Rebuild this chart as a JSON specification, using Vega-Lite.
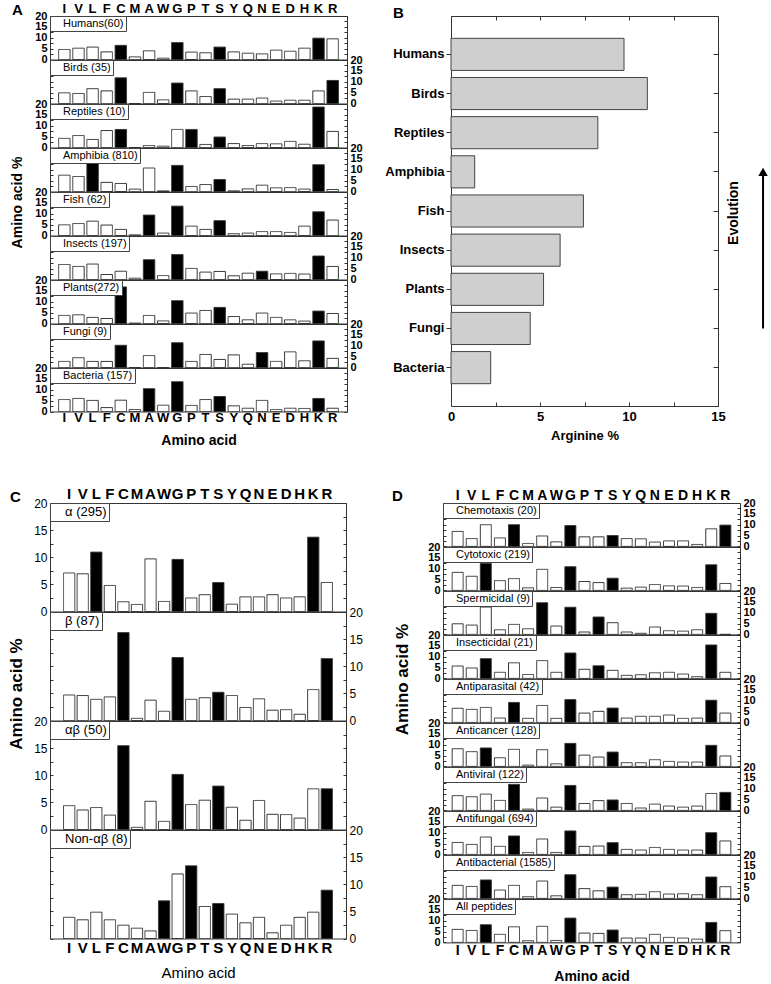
{
"$schema":"https://vega.github.io/schema/vega-lite/v6.json",
"padding":{"left":6,"top":1,"right":0,"bottom":0},
"background":"white",
"config":{
 "view":{"stroke":"#333","strokeWidth":1},
 "font":"Liberation Sans",
 "title":{"font":"Liberation Sans","fontSize":15,"fontWeight":"bold","anchor":"start","color":"#000","offset":0},
 "axis":{"labelFont":"Liberation Sans","titleFont":"Liberation Sans","labelColor":"#000","titleColor":"#000","labelFontWeight":"bold","titleFontWeight":"bold","grid":false,"domain":false,"labelOverlap":false,"labelFlush":false,"labelFontSize":11,"tickColor":"#333"},
 "axisYQuantitative":{"tickSize":-3,"labelPadding":6,"labelOverlap":false,"labelBound":false},
 "legend":{"orient":"top-left","offset":0,"padding":2,"strokeColor":"#444","fillColor":"#fff","labelFont":"Liberation Sans","labelFontSize":11,"labelColor":"#000","symbolSize":0,"symbolOpacity":0,"symbolStrokeWidth":0,"labelOffset":0,"symbolType":"circle","cornerRadius":0}
},
"datasets":{
"A":[
{"g":"Humans(60)","a":"I","v":4.6,"h":0},{"g":"Humans(60)","a":"V","v":5.2,"h":0},{"g":"Humans(60)","a":"L","v":5.7,"h":0},{"g":"Humans(60)","a":"F","v":3.5,"h":0},{"g":"Humans(60)","a":"C","v":6.5,"h":1},{"g":"Humans(60)","a":"M","v":1.2,"h":0},{"g":"Humans(60)","a":"A","v":4.0,"h":0},{"g":"Humans(60)","a":"W","v":0.6,"h":0},{"g":"Humans(60)","a":"G","v":7.8,"h":1},{"g":"Humans(60)","a":"P","v":3.4,"h":0},{"g":"Humans(60)","a":"T","v":3.1,"h":0},{"g":"Humans(60)","a":"S","v":5.7,"h":1},{"g":"Humans(60)","a":"Y","v":3.5,"h":0},{"g":"Humans(60)","a":"Q","v":2.9,"h":0},{"g":"Humans(60)","a":"N","v":2.6,"h":0},{"g":"Humans(60)","a":"E","v":4.3,"h":0},{"g":"Humans(60)","a":"D","v":3.8,"h":0},{"g":"Humans(60)","a":"H","v":5.2,"h":0},{"g":"Humans(60)","a":"K","v":9.8,"h":1},{"g":"Humans(60)","a":"R","v":9.5,"h":0},
{"g":"Birds (35)","a":"I","v":4.9,"h":0},{"g":"Birds (35)","a":"V","v":4.6,"h":0},{"g":"Birds (35)","a":"L","v":6.8,"h":0},{"g":"Birds (35)","a":"F","v":5.8,"h":0},{"g":"Birds (35)","a":"C","v":11.8,"h":1},{"g":"Birds (35)","a":"M","v":0,"h":0},{"g":"Birds (35)","a":"A","v":5.1,"h":0},{"g":"Birds (35)","a":"W","v":1.7,"h":0},{"g":"Birds (35)","a":"G","v":9.4,"h":1},{"g":"Birds (35)","a":"P","v":5.8,"h":0},{"g":"Birds (35)","a":"T","v":3.2,"h":0},{"g":"Birds (35)","a":"S","v":6.8,"h":1},{"g":"Birds (35)","a":"Y","v":2.0,"h":0},{"g":"Birds (35)","a":"Q","v":2.0,"h":0},{"g":"Birds (35)","a":"N","v":2.5,"h":0},{"g":"Birds (35)","a":"E","v":1.1,"h":0},{"g":"Birds (35)","a":"D","v":1.5,"h":0},{"g":"Birds (35)","a":"H","v":1.5,"h":0},{"g":"Birds (35)","a":"K","v":5.8,"h":0},{"g":"Birds (35)","a":"R","v":10.6,"h":1},
{"g":"Reptiles (10)","a":"I","v":4.2,"h":0},{"g":"Reptiles (10)","a":"V","v":5.5,"h":0},{"g":"Reptiles (10)","a":"L","v":3.7,"h":0},{"g":"Reptiles (10)","a":"F","v":7.8,"h":0},{"g":"Reptiles (10)","a":"C","v":8.3,"h":1},{"g":"Reptiles (10)","a":"M","v":0,"h":0},{"g":"Reptiles (10)","a":"A","v":0.9,"h":0},{"g":"Reptiles (10)","a":"W","v":0.6,"h":0},{"g":"Reptiles (10)","a":"G","v":8.3,"h":0},{"g":"Reptiles (10)","a":"P","v":8.3,"h":1},{"g":"Reptiles (10)","a":"T","v":1.4,"h":0},{"g":"Reptiles (10)","a":"S","v":4.8,"h":1},{"g":"Reptiles (10)","a":"Y","v":1.8,"h":0},{"g":"Reptiles (10)","a":"Q","v":0.9,"h":0},{"g":"Reptiles (10)","a":"N","v":1.8,"h":0},{"g":"Reptiles (10)","a":"E","v":1.7,"h":0},{"g":"Reptiles (10)","a":"D","v":2.8,"h":0},{"g":"Reptiles (10)","a":"H","v":1.5,"h":0},{"g":"Reptiles (10)","a":"K","v":18.6,"h":1},{"g":"Reptiles (10)","a":"R","v":7.4,"h":0},
{"g":"Amphibia (810)","a":"I","v":7.5,"h":0},{"g":"Amphibia (810)","a":"V","v":6.9,"h":0},{"g":"Amphibia (810)","a":"L","v":13.4,"h":1},{"g":"Amphibia (810)","a":"F","v":4.2,"h":0},{"g":"Amphibia (810)","a":"C","v":3.7,"h":0},{"g":"Amphibia (810)","a":"M","v":1.1,"h":0},{"g":"Amphibia (810)","a":"A","v":10.8,"h":0},{"g":"Amphibia (810)","a":"W","v":0.3,"h":0},{"g":"Amphibia (810)","a":"G","v":12.0,"h":1},{"g":"Amphibia (810)","a":"P","v":2.3,"h":0},{"g":"Amphibia (810)","a":"T","v":3.2,"h":0},{"g":"Amphibia (810)","a":"S","v":5.5,"h":1},{"g":"Amphibia (810)","a":"Y","v":0.3,"h":0},{"g":"Amphibia (810)","a":"Q","v":1.2,"h":0},{"g":"Amphibia (810)","a":"N","v":2.9,"h":0},{"g":"Amphibia (810)","a":"E","v":1.7,"h":0},{"g":"Amphibia (810)","a":"D","v":1.8,"h":0},{"g":"Amphibia (810)","a":"H","v":1.1,"h":0},{"g":"Amphibia (810)","a":"K","v":12.3,"h":1},{"g":"Amphibia (810)","a":"R","v":0.9,"h":0},
{"g":"Fish (62)","a":"I","v":4.9,"h":0},{"g":"Fish (62)","a":"V","v":5.5,"h":0},{"g":"Fish (62)","a":"L","v":6.6,"h":0},{"g":"Fish (62)","a":"F","v":4.8,"h":0},{"g":"Fish (62)","a":"C","v":2.8,"h":0},{"g":"Fish (62)","a":"M","v":0.3,"h":0},{"g":"Fish (62)","a":"A","v":9.4,"h":1},{"g":"Fish (62)","a":"W","v":1.1,"h":0},{"g":"Fish (62)","a":"G","v":13.5,"h":1},{"g":"Fish (62)","a":"P","v":4.3,"h":0},{"g":"Fish (62)","a":"T","v":2.8,"h":0},{"g":"Fish (62)","a":"S","v":6.8,"h":1},{"g":"Fish (62)","a":"Y","v":0.8,"h":0},{"g":"Fish (62)","a":"Q","v":1.1,"h":0},{"g":"Fish (62)","a":"N","v":1.8,"h":0},{"g":"Fish (62)","a":"E","v":1.8,"h":0},{"g":"Fish (62)","a":"D","v":1.4,"h":0},{"g":"Fish (62)","a":"H","v":4.3,"h":0},{"g":"Fish (62)","a":"K","v":10.9,"h":1},{"g":"Fish (62)","a":"R","v":7.1,"h":0},
{"g":"Insects (197)","a":"I","v":6.9,"h":0},{"g":"Insects (197)","a":"V","v":6.0,"h":0},{"g":"Insects (197)","a":"L","v":7.1,"h":0},{"g":"Insects (197)","a":"F","v":2.3,"h":0},{"g":"Insects (197)","a":"C","v":3.8,"h":0},{"g":"Insects (197)","a":"M","v":0.6,"h":0},{"g":"Insects (197)","a":"A","v":9.1,"h":1},{"g":"Insects (197)","a":"W","v":1.8,"h":0},{"g":"Insects (197)","a":"G","v":11.5,"h":1},{"g":"Insects (197)","a":"P","v":5.1,"h":0},{"g":"Insects (197)","a":"T","v":3.4,"h":0},{"g":"Insects (197)","a":"S","v":3.7,"h":0},{"g":"Insects (197)","a":"Y","v":1.7,"h":0},{"g":"Insects (197)","a":"Q","v":2.9,"h":0},{"g":"Insects (197)","a":"N","v":3.8,"h":1},{"g":"Insects (197)","a":"E","v":2.6,"h":0},{"g":"Insects (197)","a":"D","v":2.8,"h":0},{"g":"Insects (197)","a":"H","v":2.5,"h":0},{"g":"Insects (197)","a":"K","v":10.8,"h":1},{"g":"Insects (197)","a":"R","v":6.0,"h":0},
{"g":"Plants(272)","a":"I","v":3.7,"h":0},{"g":"Plants(272)","a":"V","v":4.0,"h":0},{"g":"Plants(272)","a":"L","v":2.8,"h":0},{"g":"Plants(272)","a":"F","v":2.3,"h":0},{"g":"Plants(272)","a":"C","v":16.8,"h":1},{"g":"Plants(272)","a":"M","v":0.2,"h":0},{"g":"Plants(272)","a":"A","v":3.7,"h":0},{"g":"Plants(272)","a":"W","v":1.2,"h":0},{"g":"Plants(272)","a":"G","v":10.5,"h":1},{"g":"Plants(272)","a":"P","v":4.8,"h":0},{"g":"Plants(272)","a":"T","v":6.0,"h":0},{"g":"Plants(272)","a":"S","v":7.4,"h":1},{"g":"Plants(272)","a":"Y","v":3.2,"h":0},{"g":"Plants(272)","a":"Q","v":1.7,"h":0},{"g":"Plants(272)","a":"N","v":4.8,"h":0},{"g":"Plants(272)","a":"E","v":2.8,"h":0},{"g":"Plants(272)","a":"D","v":1.7,"h":0},{"g":"Plants(272)","a":"H","v":1.1,"h":0},{"g":"Plants(272)","a":"K","v":5.7,"h":1},{"g":"Plants(272)","a":"R","v":4.6,"h":0},
{"g":"Fungi (9)","a":"I","v":2.8,"h":0},{"g":"Fungi (9)","a":"V","v":4.5,"h":0},{"g":"Fungi (9)","a":"L","v":2.8,"h":0},{"g":"Fungi (9)","a":"F","v":2.8,"h":0},{"g":"Fungi (9)","a":"C","v":10.2,"h":1},{"g":"Fungi (9)","a":"M","v":0,"h":0},{"g":"Fungi (9)","a":"A","v":5.5,"h":0},{"g":"Fungi (9)","a":"W","v":0,"h":0},{"g":"Fungi (9)","a":"G","v":11.4,"h":1},{"g":"Fungi (9)","a":"P","v":2.8,"h":0},{"g":"Fungi (9)","a":"T","v":6.0,"h":0},{"g":"Fungi (9)","a":"S","v":3.7,"h":0},{"g":"Fungi (9)","a":"Y","v":5.8,"h":0},{"g":"Fungi (9)","a":"Q","v":1.5,"h":0},{"g":"Fungi (9)","a":"N","v":6.9,"h":1},{"g":"Fungi (9)","a":"E","v":2.8,"h":0},{"g":"Fungi (9)","a":"D","v":7.2,"h":0},{"g":"Fungi (9)","a":"H","v":3.1,"h":0},{"g":"Fungi (9)","a":"K","v":12.2,"h":1},{"g":"Fungi (9)","a":"R","v":4.2,"h":0},
{"g":"Bacteria (157)","a":"I","v":5.5,"h":0},{"g":"Bacteria (157)","a":"V","v":6.0,"h":0},{"g":"Bacteria (157)","a":"L","v":5.1,"h":0},{"g":"Bacteria (157)","a":"F","v":1.8,"h":0},{"g":"Bacteria (157)","a":"C","v":5.2,"h":0},{"g":"Bacteria (157)","a":"M","v":0.9,"h":0},{"g":"Bacteria (157)","a":"A","v":10.5,"h":1},{"g":"Bacteria (157)","a":"W","v":2.9,"h":0},{"g":"Bacteria (157)","a":"G","v":13.7,"h":1},{"g":"Bacteria (157)","a":"P","v":2.8,"h":0},{"g":"Bacteria (157)","a":"T","v":5.5,"h":0},{"g":"Bacteria (157)","a":"S","v":6.9,"h":1},{"g":"Bacteria (157)","a":"Y","v":2.6,"h":0},{"g":"Bacteria (157)","a":"Q","v":1.5,"h":0},{"g":"Bacteria (157)","a":"N","v":5.1,"h":0},{"g":"Bacteria (157)","a":"E","v":0.9,"h":0},{"g":"Bacteria (157)","a":"D","v":1.5,"h":0},{"g":"Bacteria (157)","a":"H","v":1.4,"h":0},{"g":"Bacteria (157)","a":"K","v":6.0,"h":1},{"g":"Bacteria (157)","a":"R","v":1.5,"h":0}
],
"B":[
{"g":"Humans","v":9.72},{"g":"Birds","v":11.03},{"g":"Reptiles","v":8.25},{"g":"Amphibia","v":1.33},{"g":"Fish","v":7.44},{"g":"Insects","v":6.13},{"g":"Plants","v":5.2},{"g":"Fungi","v":4.45},{"g":"Bacteria","v":2.23}
],
"C":[
{"g":"α (295)","a":"I","v":7.1,"h":0},{"g":"α (295)","a":"V","v":6.95,"h":0},{"g":"α (295)","a":"L","v":10.95,"h":1},{"g":"α (295)","a":"F","v":4.8,"h":0},{"g":"α (295)","a":"C","v":1.8,"h":0},{"g":"α (295)","a":"M","v":1.3,"h":0},{"g":"α (295)","a":"A","v":9.7,"h":0},{"g":"α (295)","a":"W","v":1.85,"h":0},{"g":"α (295)","a":"G","v":9.6,"h":1},{"g":"α (295)","a":"P","v":2.5,"h":0},{"g":"α (295)","a":"T","v":3.1,"h":0},{"g":"α (295)","a":"S","v":5.35,"h":1},{"g":"α (295)","a":"Y","v":1.35,"h":0},{"g":"α (295)","a":"Q","v":2.7,"h":0},{"g":"α (295)","a":"N","v":2.7,"h":0},{"g":"α (295)","a":"E","v":3.1,"h":0},{"g":"α (295)","a":"D","v":2.5,"h":0},{"g":"α (295)","a":"H","v":2.7,"h":0},{"g":"α (295)","a":"K","v":13.7,"h":1},{"g":"α (295)","a":"R","v":5.35,"h":0},
{"g":"β (87)","a":"I","v":4.7,"h":0},{"g":"β (87)","a":"V","v":4.6,"h":0},{"g":"β (87)","a":"L","v":3.9,"h":0},{"g":"β (87)","a":"F","v":4.35,"h":0},{"g":"β (87)","a":"C","v":16.2,"h":1},{"g":"β (87)","a":"M","v":0.4,"h":0},{"g":"β (87)","a":"A","v":3.75,"h":0},{"g":"β (87)","a":"W","v":1.7,"h":0},{"g":"β (87)","a":"G","v":11.6,"h":1},{"g":"β (87)","a":"P","v":3.9,"h":0},{"g":"β (87)","a":"T","v":4.2,"h":0},{"g":"β (87)","a":"S","v":5.2,"h":1},{"g":"β (87)","a":"Y","v":4.6,"h":0},{"g":"β (87)","a":"Q","v":2.4,"h":0},{"g":"β (87)","a":"N","v":4.0,"h":0},{"g":"β (87)","a":"E","v":1.9,"h":0},{"g":"β (87)","a":"D","v":2.0,"h":0},{"g":"β (87)","a":"H","v":1.15,"h":0},{"g":"β (87)","a":"K","v":5.7,"h":0},{"g":"β (87)","a":"R","v":11.4,"h":1},
{"g":"αβ (50)","a":"I","v":4.4,"h":0},{"g":"αβ (50)","a":"V","v":3.6,"h":0},{"g":"αβ (50)","a":"L","v":4.05,"h":0},{"g":"αβ (50)","a":"F","v":2.65,"h":0},{"g":"αβ (50)","a":"C","v":15.45,"h":1},{"g":"αβ (50)","a":"M","v":0.4,"h":0},{"g":"αβ (50)","a":"A","v":5.2,"h":0},{"g":"αβ (50)","a":"W","v":1.5,"h":0},{"g":"αβ (50)","a":"G","v":10.15,"h":1},{"g":"αβ (50)","a":"P","v":4.6,"h":0},{"g":"αβ (50)","a":"T","v":5.4,"h":0},{"g":"αβ (50)","a":"S","v":8.0,"h":1},{"g":"αβ (50)","a":"Y","v":4.1,"h":0},{"g":"αβ (50)","a":"Q","v":1.7,"h":0},{"g":"αβ (50)","a":"N","v":5.35,"h":0},{"g":"αβ (50)","a":"E","v":2.8,"h":0},{"g":"αβ (50)","a":"D","v":2.75,"h":0},{"g":"αβ (50)","a":"H","v":2.1,"h":0},{"g":"αβ (50)","a":"K","v":7.5,"h":0},{"g":"αβ (50)","a":"R","v":7.5,"h":1},
{"g":"Non-αβ (8)","a":"I","v":3.9,"h":0},{"g":"Non-αβ (8)","a":"V","v":3.45,"h":0},{"g":"Non-αβ (8)","a":"L","v":4.85,"h":0},{"g":"Non-αβ (8)","a":"F","v":3.45,"h":0},{"g":"Non-αβ (8)","a":"C","v":2.45,"h":0},{"g":"Non-αβ (8)","a":"M","v":1.9,"h":0},{"g":"Non-αβ (8)","a":"A","v":1.4,"h":0},{"g":"Non-αβ (8)","a":"W","v":6.95,"h":1},{"g":"Non-αβ (8)","a":"G","v":11.9,"h":0},{"g":"Non-αβ (8)","a":"P","v":13.4,"h":1},{"g":"Non-αβ (8)","a":"T","v":5.9,"h":0},{"g":"Non-αβ (8)","a":"S","v":6.45,"h":1},{"g":"Non-αβ (8)","a":"Y","v":4.5,"h":0},{"g":"Non-αβ (8)","a":"Q","v":2.9,"h":0},{"g":"Non-αβ (8)","a":"N","v":3.9,"h":0},{"g":"Non-αβ (8)","a":"E","v":1.05,"h":0},{"g":"Non-αβ (8)","a":"D","v":2.45,"h":0},{"g":"Non-αβ (8)","a":"H","v":3.9,"h":0},{"g":"Non-αβ (8)","a":"K","v":4.85,"h":0},{"g":"Non-αβ (8)","a":"R","v":8.9,"h":1}
],
"D":[
{"g":"Chemotaxis (20)","a":"I","v":6.9,"h":0},{"g":"Chemotaxis (20)","a":"V","v":3.6,"h":0},{"g":"Chemotaxis (20)","a":"L","v":10.0,"h":0},{"g":"Chemotaxis (20)","a":"F","v":3.9,"h":0},{"g":"Chemotaxis (20)","a":"C","v":10.0,"h":1},{"g":"Chemotaxis (20)","a":"M","v":1.35,"h":0},{"g":"Chemotaxis (20)","a":"A","v":4.8,"h":0},{"g":"Chemotaxis (20)","a":"W","v":2.1,"h":0},{"g":"Chemotaxis (20)","a":"G","v":9.6,"h":1},{"g":"Chemotaxis (20)","a":"P","v":4.4,"h":0},{"g":"Chemotaxis (20)","a":"T","v":4.4,"h":0},{"g":"Chemotaxis (20)","a":"S","v":5.0,"h":1},{"g":"Chemotaxis (20)","a":"Y","v":3.6,"h":0},{"g":"Chemotaxis (20)","a":"Q","v":3.5,"h":0},{"g":"Chemotaxis (20)","a":"N","v":2.0,"h":0},{"g":"Chemotaxis (20)","a":"E","v":2.55,"h":0},{"g":"Chemotaxis (20)","a":"D","v":2.55,"h":0},{"g":"Chemotaxis (20)","a":"H","v":0.9,"h":0},{"g":"Chemotaxis (20)","a":"K","v":8.1,"h":0},{"g":"Chemotaxis (20)","a":"R","v":9.8,"h":1},
{"g":"Cytotoxic (219)","a":"I","v":8.3,"h":0},{"g":"Cytotoxic (219)","a":"V","v":6.5,"h":0},{"g":"Cytotoxic (219)","a":"L","v":12.4,"h":1},{"g":"Cytotoxic (219)","a":"F","v":4.5,"h":0},{"g":"Cytotoxic (219)","a":"C","v":5.45,"h":0},{"g":"Cytotoxic (219)","a":"M","v":1.2,"h":0},{"g":"Cytotoxic (219)","a":"A","v":9.7,"h":0},{"g":"Cytotoxic (219)","a":"W","v":1.35,"h":0},{"g":"Cytotoxic (219)","a":"G","v":10.9,"h":1},{"g":"Cytotoxic (219)","a":"P","v":4.1,"h":0},{"g":"Cytotoxic (219)","a":"T","v":3.6,"h":0},{"g":"Cytotoxic (219)","a":"S","v":5.6,"h":1},{"g":"Cytotoxic (219)","a":"Y","v":1.05,"h":0},{"g":"Cytotoxic (219)","a":"Q","v":1.5,"h":0},{"g":"Cytotoxic (219)","a":"N","v":2.7,"h":0},{"g":"Cytotoxic (219)","a":"E","v":2.1,"h":0},{"g":"Cytotoxic (219)","a":"D","v":2.0,"h":0},{"g":"Cytotoxic (219)","a":"H","v":1.35,"h":0},{"g":"Cytotoxic (219)","a":"K","v":11.8,"h":1},{"g":"Cytotoxic (219)","a":"R","v":3.2,"h":0},
{"g":"Spermicidal (9)","a":"I","v":4.9,"h":0},{"g":"Spermicidal (9)","a":"V","v":4.3,"h":0},{"g":"Spermicidal (9)","a":"L","v":12.6,"h":0},{"g":"Spermicidal (9)","a":"F","v":2.15,"h":0},{"g":"Spermicidal (9)","a":"C","v":4.6,"h":0},{"g":"Spermicidal (9)","a":"M","v":2.6,"h":0},{"g":"Spermicidal (9)","a":"A","v":14.6,"h":1},{"g":"Spermicidal (9)","a":"W","v":3.85,"h":0},{"g":"Spermicidal (9)","a":"G","v":12.5,"h":1},{"g":"Spermicidal (9)","a":"P","v":1.1,"h":0},{"g":"Spermicidal (9)","a":"T","v":8.0,"h":1},{"g":"Spermicidal (9)","a":"S","v":5.4,"h":0},{"g":"Spermicidal (9)","a":"Y","v":1.1,"h":0},{"g":"Spermicidal (9)","a":"Q","v":0.5,"h":0},{"g":"Spermicidal (9)","a":"N","v":3.4,"h":0},{"g":"Spermicidal (9)","a":"E","v":1.7,"h":0},{"g":"Spermicidal (9)","a":"D","v":1.5,"h":0},{"g":"Spermicidal (9)","a":"H","v":2.15,"h":0},{"g":"Spermicidal (9)","a":"K","v":9.7,"h":1},{"g":"Spermicidal (9)","a":"R","v":0,"h":0},
{"g":"Insecticidal (21)","a":"I","v":5.7,"h":0},{"g":"Insecticidal (21)","a":"V","v":4.8,"h":0},{"g":"Insecticidal (21)","a":"L","v":9.1,"h":1},{"g":"Insecticidal (21)","a":"F","v":2.8,"h":0},{"g":"Insecticidal (21)","a":"C","v":7.2,"h":0},{"g":"Insecticidal (21)","a":"M","v":1.8,"h":0},{"g":"Insecticidal (21)","a":"A","v":8.2,"h":0},{"g":"Insecticidal (21)","a":"W","v":2.8,"h":0},{"g":"Insecticidal (21)","a":"G","v":11.7,"h":1},{"g":"Insecticidal (21)","a":"P","v":4.2,"h":0},{"g":"Insecticidal (21)","a":"T","v":5.8,"h":1},{"g":"Insecticidal (21)","a":"S","v":3.7,"h":0},{"g":"Insecticidal (21)","a":"Y","v":1.4,"h":0},{"g":"Insecticidal (21)","a":"Q","v":1.7,"h":0},{"g":"Insecticidal (21)","a":"N","v":2.6,"h":0},{"g":"Insecticidal (21)","a":"E","v":2.8,"h":0},{"g":"Insecticidal (21)","a":"D","v":2.0,"h":0},{"g":"Insecticidal (21)","a":"H","v":0.8,"h":0},{"g":"Insecticidal (21)","a":"K","v":15.4,"h":1},{"g":"Insecticidal (21)","a":"R","v":2.8,"h":0},
{"g":"Antiparasital (42)","a":"I","v":6.5,"h":0},{"g":"Antiparasital (42)","a":"V","v":6.0,"h":0},{"g":"Antiparasital (42)","a":"L","v":6.9,"h":0},{"g":"Antiparasital (42)","a":"F","v":2.0,"h":0},{"g":"Antiparasital (42)","a":"C","v":9.2,"h":1},{"g":"Antiparasital (42)","a":"M","v":1.85,"h":0},{"g":"Antiparasital (42)","a":"A","v":7.8,"h":0},{"g":"Antiparasital (42)","a":"W","v":1.85,"h":0},{"g":"Antiparasital (42)","a":"G","v":10.5,"h":1},{"g":"Antiparasital (42)","a":"P","v":4.3,"h":0},{"g":"Antiparasital (42)","a":"T","v":5.1,"h":0},{"g":"Antiparasital (42)","a":"S","v":6.6,"h":1},{"g":"Antiparasital (42)","a":"Y","v":2.0,"h":0},{"g":"Antiparasital (42)","a":"Q","v":2.8,"h":0},{"g":"Antiparasital (42)","a":"N","v":2.8,"h":0},{"g":"Antiparasital (42)","a":"E","v":3.4,"h":0},{"g":"Antiparasital (42)","a":"D","v":1.85,"h":0},{"g":"Antiparasital (42)","a":"H","v":2.0,"h":0},{"g":"Antiparasital (42)","a":"K","v":10.2,"h":1},{"g":"Antiparasital (42)","a":"R","v":4.3,"h":0},
{"g":"Anticancer (128)","a":"I","v":8.15,"h":0},{"g":"Anticancer (128)","a":"V","v":6.8,"h":0},{"g":"Anticancer (128)","a":"L","v":8.5,"h":1},{"g":"Anticancer (128)","a":"F","v":4.0,"h":0},{"g":"Anticancer (128)","a":"C","v":7.85,"h":0},{"g":"Anticancer (128)","a":"M","v":0.6,"h":0},{"g":"Anticancer (128)","a":"A","v":7.7,"h":0},{"g":"Anticancer (128)","a":"W","v":1.2,"h":0},{"g":"Anticancer (128)","a":"G","v":10.6,"h":1},{"g":"Anticancer (128)","a":"P","v":5.2,"h":0},{"g":"Anticancer (128)","a":"T","v":4.3,"h":0},{"g":"Anticancer (128)","a":"S","v":6.6,"h":1},{"g":"Anticancer (128)","a":"Y","v":1.7,"h":0},{"g":"Anticancer (128)","a":"Q","v":1.7,"h":0},{"g":"Anticancer (128)","a":"N","v":3.1,"h":0},{"g":"Anticancer (128)","a":"E","v":2.3,"h":0},{"g":"Anticancer (128)","a":"D","v":2.0,"h":0},{"g":"Anticancer (128)","a":"H","v":2.0,"h":0},{"g":"Anticancer (128)","a":"K","v":9.7,"h":1},{"g":"Anticancer (128)","a":"R","v":4.8,"h":0},
{"g":"Antiviral (122)","a":"I","v":6.8,"h":0},{"g":"Antiviral (122)","a":"V","v":6.3,"h":0},{"g":"Antiviral (122)","a":"L","v":7.5,"h":0},{"g":"Antiviral (122)","a":"F","v":4.6,"h":0},{"g":"Antiviral (122)","a":"C","v":12.0,"h":1},{"g":"Antiviral (122)","a":"M","v":0.6,"h":0},{"g":"Antiviral (122)","a":"A","v":5.7,"h":0},{"g":"Antiviral (122)","a":"W","v":1.5,"h":0},{"g":"Antiviral (122)","a":"G","v":11.5,"h":1},{"g":"Antiviral (122)","a":"P","v":3.2,"h":0},{"g":"Antiviral (122)","a":"T","v":4.5,"h":0},{"g":"Antiviral (122)","a":"S","v":4.8,"h":1},{"g":"Antiviral (122)","a":"Y","v":3.2,"h":0},{"g":"Antiviral (122)","a":"Q","v":1.1,"h":0},{"g":"Antiviral (122)","a":"N","v":2.9,"h":0},{"g":"Antiviral (122)","a":"E","v":2.0,"h":0},{"g":"Antiviral (122)","a":"D","v":1.5,"h":0},{"g":"Antiviral (122)","a":"H","v":2.0,"h":0},{"g":"Antiviral (122)","a":"K","v":7.8,"h":0},{"g":"Antiviral (122)","a":"R","v":8.3,"h":1},
{"g":"Antifungal (694)","a":"I","v":5.5,"h":0},{"g":"Antifungal (694)","a":"V","v":4.6,"h":0},{"g":"Antifungal (694)","a":"L","v":8.0,"h":0},{"g":"Antifungal (694)","a":"F","v":3.7,"h":0},{"g":"Antifungal (694)","a":"C","v":8.5,"h":1},{"g":"Antifungal (694)","a":"M","v":0.9,"h":0},{"g":"Antifungal (694)","a":"A","v":7.1,"h":0},{"g":"Antifungal (694)","a":"W","v":0.9,"h":0},{"g":"Antifungal (694)","a":"G","v":10.8,"h":1},{"g":"Antifungal (694)","a":"P","v":3.7,"h":0},{"g":"Antifungal (694)","a":"T","v":3.85,"h":0},{"g":"Antifungal (694)","a":"S","v":5.4,"h":1},{"g":"Antifungal (694)","a":"Y","v":2.3,"h":0},{"g":"Antifungal (694)","a":"Q","v":2.0,"h":0},{"g":"Antifungal (694)","a":"N","v":3.2,"h":0},{"g":"Antifungal (694)","a":"E","v":2.3,"h":0},{"g":"Antifungal (694)","a":"D","v":2.0,"h":0},{"g":"Antifungal (694)","a":"H","v":2.0,"h":0},{"g":"Antifungal (694)","a":"K","v":10.0,"h":1},{"g":"Antifungal (694)","a":"R","v":6.2,"h":0},
{"g":"Antibacterial (1585)","a":"I","v":6.0,"h":0},{"g":"Antibacterial (1585)","a":"V","v":5.5,"h":0},{"g":"Antibacterial (1585)","a":"L","v":8.5,"h":1},{"g":"Antibacterial (1585)","a":"F","v":3.85,"h":0},{"g":"Antibacterial (1585)","a":"C","v":6.0,"h":0},{"g":"Antibacterial (1585)","a":"M","v":0.8,"h":0},{"g":"Antibacterial (1585)","a":"A","v":8.0,"h":0},{"g":"Antibacterial (1585)","a":"W","v":1.2,"h":0},{"g":"Antibacterial (1585)","a":"G","v":10.9,"h":1},{"g":"Antibacterial (1585)","a":"P","v":4.5,"h":0},{"g":"Antibacterial (1585)","a":"T","v":3.5,"h":0},{"g":"Antibacterial (1585)","a":"S","v":5.2,"h":1},{"g":"Antibacterial (1585)","a":"Y","v":1.7,"h":0},{"g":"Antibacterial (1585)","a":"Q","v":1.85,"h":0},{"g":"Antibacterial (1585)","a":"N","v":3.1,"h":0},{"g":"Antibacterial (1585)","a":"E","v":2.0,"h":0},{"g":"Antibacterial (1585)","a":"D","v":2.15,"h":0},{"g":"Antibacterial (1585)","a":"H","v":1.7,"h":0},{"g":"Antibacterial (1585)","a":"K","v":9.85,"h":1},{"g":"Antibacterial (1585)","a":"R","v":5.4,"h":0},
{"g":"All peptides","a":"I","v":6.0,"h":0},{"g":"All peptides","a":"V","v":5.5,"h":0},{"g":"All peptides","a":"L","v":8.15,"h":1},{"g":"All peptides","a":"F","v":3.7,"h":0},{"g":"All peptides","a":"C","v":7.2,"h":0},{"g":"All peptides","a":"M","v":0.8,"h":0},{"g":"All peptides","a":"A","v":7.4,"h":0},{"g":"All peptides","a":"W","v":0.9,"h":0},{"g":"All peptides","a":"G","v":11.2,"h":1},{"g":"All peptides","a":"P","v":4.3,"h":0},{"g":"All peptides","a":"T","v":4.15,"h":0},{"g":"All peptides","a":"S","v":5.7,"h":1},{"g":"All peptides","a":"Y","v":2.0,"h":0},{"g":"All peptides","a":"Q","v":2.0,"h":0},{"g":"All peptides","a":"N","v":3.7,"h":0},{"g":"All peptides","a":"E","v":2.3,"h":0},{"g":"All peptides","a":"D","v":2.0,"h":0},{"g":"All peptides","a":"H","v":1.5,"h":0},{"g":"All peptides","a":"K","v":9.2,"h":1},{"g":"All peptides","a":"R","v":5.4,"h":0}
]
},
"spacing":37,
"vconcat":[
{"concat":[
 {"title":{"text":"A","frame":"group","dx":-38,"offset":-16},
  "data":{"name":"A"},"spacing":0,"bounds":"flush",
  "resolve":{"scale":{"strokeDash":"independent"},"legend":{"strokeDash":"independent"}},
  "vconcat":[
   {"transform":[{"filter":"datum.g=='Humans(60)'"}],"width":297,"height":43.5,
    "encoding":{"x":{"field":"a","type":"nominal","sort":null,"scale":{"domain":["I","V","L","F","C","M","A","W","G","P","T","S","Y","Q","N","E","D","H","K","R"],"paddingInner":0.19,"paddingOuter":0.61},"axis":{"orient":"top","ticks":false,"labelPadding":1,"labelFontSize":13,"labelAngle":0,"title":null}}},
    "layer":[{"mark":{"type":"bar","stroke":"#333","strokeWidth":1},"encoding":{"y":{"field":"v","type":"quantitative","scale":{"domain":[0,20]},"axis":{"orient":"left","title":null,"values":[0,2.5,5,7.5,10,12.5,15,17.5,20],"labelExpr":"datum.value % 5 == 0 ? datum.label : ''","labelOverlap":false}},"fill":{"field":"h","type":"nominal","scale":{"domain":[0,1],"range":["#ffffff","#000000"]},"legend":null},"strokeDash":{"field":"g","type":"nominal","scale":{"range":[[1,0]]},"legend":{"title":null}}}},
     {"mark":{"type":"bar","opacity":0},"encoding":{"y":{"field":"v","type":"quantitative","axis":{"orient":"right","labels":false,"title":null,"values":[0,2.5,5,7.5,10,12.5,15,17.5,20]}}}}],
    "resolve":{"axis":{"y":"independent"}}},
   {"transform":[{"filter":"datum.g=='Birds (35)'"}],"width":297,"height":43.5,
    "encoding":{"x":{"field":"a","type":"nominal","sort":null,"scale":{"domain":["I","V","L","F","C","M","A","W","G","P","T","S","Y","Q","N","E","D","H","K","R"],"paddingInner":0.19,"paddingOuter":0.61},"axis":null}},
    "layer":[{"mark":{"type":"bar","stroke":"#333","strokeWidth":1},"encoding":{"y":{"field":"v","type":"quantitative","scale":{"domain":[0,20]},"axis":{"orient":"right","title":null,"values":[0,2.5,5,7.5,10,12.5,15,17.5,20],"labelExpr":"datum.value % 5 == 0 ? datum.label : ''","labelOverlap":false}},"fill":{"field":"h","type":"nominal","scale":{"domain":[0,1],"range":["#ffffff","#000000"]},"legend":null},"strokeDash":{"field":"g","type":"nominal","scale":{"range":[[1,0]]},"legend":{"title":null}}}},
     {"mark":{"type":"bar","opacity":0},"encoding":{"y":{"field":"v","type":"quantitative","axis":{"orient":"left","labels":false,"title":null,"values":[0,2.5,5,7.5,10,12.5,15,17.5,20]}}}}],
    "resolve":{"axis":{"y":"independent"}}},
   {"transform":[{"filter":"datum.g=='Reptiles (10)'"}],"width":297,"height":43.5,
    "encoding":{"x":{"field":"a","type":"nominal","sort":null,"scale":{"domain":["I","V","L","F","C","M","A","W","G","P","T","S","Y","Q","N","E","D","H","K","R"],"paddingInner":0.19,"paddingOuter":0.61},"axis":null}},
    "layer":[{"mark":{"type":"bar","stroke":"#333","strokeWidth":1},"encoding":{"y":{"field":"v","type":"quantitative","scale":{"domain":[0,20]},"axis":{"orient":"left","title":null,"values":[0,2.5,5,7.5,10,12.5,15,17.5,20],"labelExpr":"datum.value % 5 == 0 ? datum.label : ''","labelOverlap":false}},"fill":{"field":"h","type":"nominal","scale":{"domain":[0,1],"range":["#ffffff","#000000"]},"legend":null},"strokeDash":{"field":"g","type":"nominal","scale":{"range":[[1,0]]},"legend":{"title":null}}}},
     {"mark":{"type":"bar","opacity":0},"encoding":{"y":{"field":"v","type":"quantitative","axis":{"orient":"right","labels":false,"title":null,"values":[0,2.5,5,7.5,10,12.5,15,17.5,20]}}}}],
    "resolve":{"axis":{"y":"independent"}}},
   {"transform":[{"filter":"datum.g=='Amphibia (810)'"}],"width":297,"height":43.5,
    "encoding":{"x":{"field":"a","type":"nominal","sort":null,"scale":{"domain":["I","V","L","F","C","M","A","W","G","P","T","S","Y","Q","N","E","D","H","K","R"],"paddingInner":0.19,"paddingOuter":0.61},"axis":null}},
    "layer":[{"mark":{"type":"bar","stroke":"#333","strokeWidth":1},"encoding":{"y":{"field":"v","type":"quantitative","scale":{"domain":[0,20]},"axis":{"orient":"right","title":null,"values":[0,2.5,5,7.5,10,12.5,15,17.5,20],"labelExpr":"datum.value % 5 == 0 ? datum.label : ''","labelOverlap":false}},"fill":{"field":"h","type":"nominal","scale":{"domain":[0,1],"range":["#ffffff","#000000"]},"legend":null},"strokeDash":{"field":"g","type":"nominal","scale":{"range":[[1,0]]},"legend":{"title":null}}}},
     {"mark":{"type":"bar","opacity":0},"encoding":{"y":{"field":"v","type":"quantitative","axis":{"orient":"left","labels":false,"title":null,"values":[0,2.5,5,7.5,10,12.5,15,17.5,20]}}}}],
    "resolve":{"axis":{"y":"independent"}}},
   {"transform":[{"filter":"datum.g=='Fish (62)'"}],"width":297,"height":43.5,
    "encoding":{"x":{"field":"a","type":"nominal","sort":null,"scale":{"domain":["I","V","L","F","C","M","A","W","G","P","T","S","Y","Q","N","E","D","H","K","R"],"paddingInner":0.19,"paddingOuter":0.61},"axis":null}},
    "layer":[{"mark":{"type":"bar","stroke":"#333","strokeWidth":1},"encoding":{"y":{"field":"v","type":"quantitative","scale":{"domain":[0,20]},"axis":{"orient":"left","values":[0,2.5,5,7.5,10,12.5,15,17.5,20],"labelExpr":"datum.value % 5 == 0 ? datum.label : ''","labelOverlap":false,"title":"Amino acid %","titleFontSize":14,"titleX":-26,"titleY":10,"titleAngle":270,"titleAlign":"center","titleBaseline":"bottom"}},"fill":{"field":"h","type":"nominal","scale":{"domain":[0,1],"range":["#ffffff","#000000"]},"legend":null},"strokeDash":{"field":"g","type":"nominal","scale":{"range":[[1,0]]},"legend":{"title":null}}}},
     {"mark":{"type":"bar","opacity":0},"encoding":{"y":{"field":"v","type":"quantitative","axis":{"orient":"right","labels":false,"title":null,"values":[0,2.5,5,7.5,10,12.5,15,17.5,20]}}}}],
    "resolve":{"axis":{"y":"independent"}}},
   {"transform":[{"filter":"datum.g=='Insects (197)'"}],"width":297,"height":43.5,
    "encoding":{"x":{"field":"a","type":"nominal","sort":null,"scale":{"domain":["I","V","L","F","C","M","A","W","G","P","T","S","Y","Q","N","E","D","H","K","R"],"paddingInner":0.19,"paddingOuter":0.61},"axis":null}},
    "layer":[{"mark":{"type":"bar","stroke":"#333","strokeWidth":1},"encoding":{"y":{"field":"v","type":"quantitative","scale":{"domain":[0,20]},"axis":{"orient":"right","title":null,"values":[0,2.5,5,7.5,10,12.5,15,17.5,20],"labelExpr":"datum.value % 5 == 0 ? datum.label : ''","labelOverlap":false}},"fill":{"field":"h","type":"nominal","scale":{"domain":[0,1],"range":["#ffffff","#000000"]},"legend":null},"strokeDash":{"field":"g","type":"nominal","scale":{"range":[[1,0]]},"legend":{"title":null}}}},
     {"mark":{"type":"bar","opacity":0},"encoding":{"y":{"field":"v","type":"quantitative","axis":{"orient":"left","labels":false,"title":null,"values":[0,2.5,5,7.5,10,12.5,15,17.5,20]}}}}],
    "resolve":{"axis":{"y":"independent"}}},
   {"transform":[{"filter":"datum.g=='Plants(272)'"}],"width":297,"height":43.5,
    "encoding":{"x":{"field":"a","type":"nominal","sort":null,"scale":{"domain":["I","V","L","F","C","M","A","W","G","P","T","S","Y","Q","N","E","D","H","K","R"],"paddingInner":0.19,"paddingOuter":0.61},"axis":null}},
    "layer":[{"mark":{"type":"bar","stroke":"#333","strokeWidth":1},"encoding":{"y":{"field":"v","type":"quantitative","scale":{"domain":[0,20]},"axis":{"orient":"left","title":null,"values":[0,2.5,5,7.5,10,12.5,15,17.5,20],"labelExpr":"datum.value % 5 == 0 ? datum.label : ''","labelOverlap":false}},"fill":{"field":"h","type":"nominal","scale":{"domain":[0,1],"range":["#ffffff","#000000"]},"legend":null},"strokeDash":{"field":"g","type":"nominal","scale":{"range":[[1,0]]},"legend":{"title":null}}}},
     {"mark":{"type":"bar","opacity":0},"encoding":{"y":{"field":"v","type":"quantitative","axis":{"orient":"right","labels":false,"title":null,"values":[0,2.5,5,7.5,10,12.5,15,17.5,20]}}}}],
    "resolve":{"axis":{"y":"independent"}}},
   {"transform":[{"filter":"datum.g=='Fungi (9)'"}],"width":297,"height":43.5,
    "encoding":{"x":{"field":"a","type":"nominal","sort":null,"scale":{"domain":["I","V","L","F","C","M","A","W","G","P","T","S","Y","Q","N","E","D","H","K","R"],"paddingInner":0.19,"paddingOuter":0.61},"axis":null}},
    "layer":[{"mark":{"type":"bar","stroke":"#333","strokeWidth":1},"encoding":{"y":{"field":"v","type":"quantitative","scale":{"domain":[0,20]},"axis":{"orient":"right","title":null,"values":[0,2.5,5,7.5,10,12.5,15,17.5,20],"labelExpr":"datum.value % 5 == 0 ? datum.label : ''","labelOverlap":false}},"fill":{"field":"h","type":"nominal","scale":{"domain":[0,1],"range":["#ffffff","#000000"]},"legend":null},"strokeDash":{"field":"g","type":"nominal","scale":{"range":[[1,0]]},"legend":{"title":null}}}},
     {"mark":{"type":"bar","opacity":0},"encoding":{"y":{"field":"v","type":"quantitative","axis":{"orient":"left","labels":false,"title":null,"values":[0,2.5,5,7.5,10,12.5,15,17.5,20]}}}}],
    "resolve":{"axis":{"y":"independent"}}},
   {"transform":[{"filter":"datum.g=='Bacteria (157)'"}],"width":297,"height":43.5,
    "encoding":{"x":{"field":"a","type":"nominal","sort":null,"scale":{"domain":["I","V","L","F","C","M","A","W","G","P","T","S","Y","Q","N","E","D","H","K","R"],"paddingInner":0.19,"paddingOuter":0.61},"axis":{"orient":"bottom","ticks":false,"labelPadding":0,"labelFontSize":13,"labelAngle":0,"title":"Amino acid","titleFontSize":14,"titlePadding":9}}},
    "layer":[{"mark":{"type":"bar","stroke":"#333","strokeWidth":1},"encoding":{"y":{"field":"v","type":"quantitative","scale":{"domain":[0,20]},"axis":{"orient":"left","title":null,"values":[0,2.5,5,7.5,10,12.5,15,17.5,20],"labelExpr":"datum.value % 5 == 0 ? datum.label : ''","labelOverlap":false}},"fill":{"field":"h","type":"nominal","scale":{"domain":[0,1],"range":["#ffffff","#000000"]},"legend":null},"strokeDash":{"field":"g","type":"nominal","scale":{"range":[[1,0]]},"legend":{"title":null}}}},
     {"mark":{"type":"bar","opacity":0},"encoding":{"y":{"field":"v","type":"quantitative","axis":{"orient":"right","labels":false,"title":null,"values":[0,2.5,5,7.5,10,12.5,15,17.5,20]}}}}],
    "resolve":{"axis":{"y":"independent"}}}
  ]},
 {"title":{"text":"B","frame":"group","dx":-58,"offset":-5},
  "data":{"name":"B"},"width":267,"height":390,
  "layer":[
   {"mark":{"type":"bar","fill":"#cfcfcf","stroke":"#444","strokeWidth":1},
    "encoding":{
     "y":{"field":"g","type":"nominal","scale":{"domain":["Humans","Birds","Reptiles","Amphibia","Fish","Insects","Plants","Fungi","Bacteria"],"paddingInner":0.18,"paddingOuter":0.57},"axis":{"orient":"left","title":null,"labelFontSize":13,"tickSize":5,"labelPadding":2}},
     "x":{"field":"v","type":"quantitative","scale":{"domain":[0,15]},"axis":{"orient":"bottom","values":[0,2.5,5,7.5,10,12.5,15],"labelExpr":"datum.value % 5 == 0 ? datum.label : ''","labelOverlap":false,"tickSize":-4,"labelPadding":8,"labelFontSize":13,"title":"Arginine %","titleFontSize":13,"titlePadding":6}}}},
   {"mark":{"type":"bar","opacity":0},
    "encoding":{
     "y":{"field":"g","type":"nominal","axis":{"orient":"right","title":null,"labels":false,"tickSize":-5}},
     "x":{"field":"v","type":"quantitative","scale":{"domain":[0,15]},"axis":{"orient":"top","values":[0,2.5,5,7.5,10,12.5,15],"tickSize":-4,"labels":false,"title":null}}}},
   {"data":{"values":[{}]},"mark":{"type":"rule","strokeWidth":2,"color":"#000"},
    "encoding":{"x":{"datum":17.53,"type":"quantitative","scale":{"domain":[0,15]},"axis":null},"y":{"datum":"Fungi","type":"nominal","axis":null},"y2":{"datum":"Amphibia"}}},
   {"data":{"values":[{}]},"mark":{"type":"point","shape":"triangle-up","filled":true,"color":"#000","size":90,"opacity":1},
    "encoding":{"x":{"datum":17.53,"type":"quantitative","scale":{"domain":[0,15]},"axis":null},"y":{"datum":"Amphibia","type":"nominal","axis":null}}},
   {"data":{"values":[{}]},"mark":{"type":"text","angle":270,"fontWeight":"bold","fontSize":14,"font":"Liberation Sans","color":"#000","dx":-2},
    "encoding":{"x":{"datum":15.9,"type":"quantitative","scale":{"domain":[0,15]},"axis":null},"y":{"datum":"Fish","type":"nominal","axis":null},"text":{"value":"Evolution"}}}
  ],
  "resolve":{"axis":{"x":"independent","y":"independent"}}}
 ],"columns":2,"align":"none","spacing":21},
{"spacing":29,"hconcat":[
 {"title":{"text":"C","frame":"group","dx":-40,"offset":-19},
  "data":{"name":"C"},"spacing":0,"bounds":"flush",
  "resolve":{"scale":{"strokeDash":"independent"},"legend":{"strokeDash":"independent"}},
  "vconcat":[
   {"transform":[{"filter":"datum.g=='α (295)'"}],"width":296,"height":108.5,
    "encoding":{"x":{"field":"a","type":"nominal","sort":null,"scale":{"domain":["I","V","L","F","C","M","A","W","G","P","T","S","Y","Q","N","E","D","H","K","R"],"paddingInner":0.17,"paddingOuter":1.6},"axis":{"orient":"top","ticks":false,"labelPadding":2,"labelFontSize":15,"labelAngle":0,"title":null}}},
    "layer":[{"mark":{"type":"bar","stroke":"#333","strokeWidth":1},"encoding":{"y":{"field":"v","type":"quantitative","scale":{"domain":[0,20]},"axis":{"orient":"left","title":null,"values":[0,2.5,5,7.5,10,12.5,15,17.5,20],"labelExpr":"datum.value % 5 == 0 ? datum.label : ''","labelOverlap":false,"labelFontWeight":"normal","labelFontSize":12}},"fill":{"field":"h","type":"nominal","scale":{"domain":[0,1],"range":["#ffffff","#000000"]},"legend":null},"strokeDash":{"field":"g","type":"nominal","scale":{"range":[[1,0]]},"legend":{"title":null,"labelFontSize":13}}}},
     {"mark":{"type":"bar","opacity":0},"encoding":{"y":{"field":"v","type":"quantitative","axis":{"orient":"right","labels":false,"title":null,"values":[0,2.5,5,7.5,10,12.5,15,17.5,20]}}}}],
    "resolve":{"axis":{"y":"independent"}}},
   {"transform":[{"filter":"datum.g=='β (87)'"}],"width":296,"height":108.5,
    "encoding":{"x":{"field":"a","type":"nominal","sort":null,"scale":{"domain":["I","V","L","F","C","M","A","W","G","P","T","S","Y","Q","N","E","D","H","K","R"],"paddingInner":0.17,"paddingOuter":1.6},"axis":null}},
    "layer":[{"mark":{"type":"bar","stroke":"#333","strokeWidth":1},"encoding":{"y":{"field":"v","type":"quantitative","scale":{"domain":[0,20]},"axis":{"orient":"right","title":null,"values":[0,2.5,5,7.5,10,12.5,15,17.5,20],"labelExpr":"datum.value % 5 == 0 ? datum.label : ''","labelOverlap":false,"labelFontWeight":"normal","labelFontSize":12}},"fill":{"field":"h","type":"nominal","scale":{"domain":[0,1],"range":["#ffffff","#000000"]},"legend":null},"strokeDash":{"field":"g","type":"nominal","scale":{"range":[[1,0]]},"legend":{"title":null,"labelFontSize":13}}}},
     {"mark":{"type":"bar","opacity":0},"encoding":{"y":{"field":"v","type":"quantitative","axis":{"orient":"left","labels":false,"values":[0,2.5,5,7.5,10,12.5,15,17.5,20],"title":"Amino acid %","titleFontSize":17,"titleX":-25,"titleY":81.5,"titleAngle":270,"titleAlign":"center","titleBaseline":"bottom"}}}}],
    "resolve":{"axis":{"y":"independent"}}},
   {"transform":[{"filter":"datum.g=='αβ (50)'"}],"width":296,"height":108.5,
    "encoding":{"x":{"field":"a","type":"nominal","sort":null,"scale":{"domain":["I","V","L","F","C","M","A","W","G","P","T","S","Y","Q","N","E","D","H","K","R"],"paddingInner":0.17,"paddingOuter":1.6},"axis":null}},
    "layer":[{"mark":{"type":"bar","stroke":"#333","strokeWidth":1},"encoding":{"y":{"field":"v","type":"quantitative","scale":{"domain":[0,20]},"axis":{"orient":"left","title":null,"values":[0,2.5,5,7.5,10,12.5,15,17.5,20],"labelExpr":"datum.value % 5 == 0 ? datum.label : ''","labelOverlap":false,"labelFontWeight":"normal","labelFontSize":12}},"fill":{"field":"h","type":"nominal","scale":{"domain":[0,1],"range":["#ffffff","#000000"]},"legend":null},"strokeDash":{"field":"g","type":"nominal","scale":{"range":[[1,0]]},"legend":{"title":null,"labelFontSize":13}}}},
     {"mark":{"type":"bar","opacity":0},"encoding":{"y":{"field":"v","type":"quantitative","axis":{"orient":"right","labels":false,"title":null,"values":[0,2.5,5,7.5,10,12.5,15,17.5,20]}}}}],
    "resolve":{"axis":{"y":"independent"}}},
   {"transform":[{"filter":"datum.g=='Non-αβ (8)'"}],"width":296,"height":108.5,
    "encoding":{"x":{"field":"a","type":"nominal","sort":null,"scale":{"domain":["I","V","L","F","C","M","A","W","G","P","T","S","Y","Q","N","E","D","H","K","R"],"paddingInner":0.17,"paddingOuter":1.6},"axis":{"orient":"bottom","ticks":false,"labelPadding":2,"labelFontSize":15,"labelAngle":0,"title":"Amino acid","titleFontWeight":"normal","titleFontSize":15,"titlePadding":10}}},
    "layer":[{"mark":{"type":"bar","stroke":"#333","strokeWidth":1},"encoding":{"y":{"field":"v","type":"quantitative","scale":{"domain":[0,20]},"axis":{"orient":"right","title":null,"values":[0,2.5,5,7.5,10,12.5,15,17.5,20],"labelExpr":"datum.value % 5 == 0 ? datum.label : ''","labelOverlap":false,"labelFontWeight":"normal","labelFontSize":12}},"fill":{"field":"h","type":"nominal","scale":{"domain":[0,1],"range":["#ffffff","#000000"]},"legend":null},"strokeDash":{"field":"g","type":"nominal","scale":{"range":[[1,0]]},"legend":{"title":null,"labelFontSize":13}}}},
     {"mark":{"type":"bar","opacity":0},"encoding":{"y":{"field":"v","type":"quantitative","axis":{"orient":"left","labels":false,"title":null,"values":[0,2.5,5,7.5,10,12.5,15,17.5,20]}}}}],
    "resolve":{"axis":{"y":"independent"}}}
  ]},
 {"title":{"text":"D","frame":"group","dx":-51,"offset":-16},
  "data":{"name":"D"},"spacing":0,"bounds":"flush",
  "resolve":{"scale":{"strokeDash":"independent"},"legend":{"strokeDash":"independent"}},
  "vconcat":[
   {"transform":[{"filter":"datum.g=='Chemotaxis (20)'"}],"width":297,"height":43.4,
    "encoding":{"x":{"field":"a","type":"nominal","sort":null,"scale":{"domain":["I","V","L","F","C","M","A","W","G","P","T","S","Y","Q","N","E","D","H","K","R"],"paddingInner":0.22,"paddingOuter":0.65},"axis":{"orient":"top","ticks":false,"labelPadding":1,"labelFontSize":14,"labelAngle":0,"title":null}}},
    "layer":[{"mark":{"type":"bar","stroke":"#333","strokeWidth":1},"encoding":{"y":{"field":"v","type":"quantitative","scale":{"domain":[0,20]},"axis":{"orient":"right","title":null,"values":[0,2.5,5,7.5,10,12.5,15,17.5,20],"labelExpr":"datum.value % 5 == 0 ? datum.label : ''","labelOverlap":false}},"fill":{"field":"h","type":"nominal","scale":{"domain":[0,1],"range":["#ffffff","#000000"]},"legend":null},"strokeDash":{"field":"g","type":"nominal","scale":{"range":[[1,0]]},"legend":{"title":null}}}},
     {"mark":{"type":"bar","opacity":0},"encoding":{"y":{"field":"v","type":"quantitative","axis":{"orient":"left","labels":false,"title":null,"values":[0,2.5,5,7.5,10,12.5,15,17.5,20]}}}}],
    "resolve":{"axis":{"y":"independent"}}},
   {"transform":[{"filter":"datum.g=='Cytotoxic (219)'"}],"width":297,"height":43.4,
    "encoding":{"x":{"field":"a","type":"nominal","sort":null,"scale":{"domain":["I","V","L","F","C","M","A","W","G","P","T","S","Y","Q","N","E","D","H","K","R"],"paddingInner":0.22,"paddingOuter":0.65},"axis":null}},
    "layer":[{"mark":{"type":"bar","stroke":"#333","strokeWidth":1},"encoding":{"y":{"field":"v","type":"quantitative","scale":{"domain":[0,20]},"axis":{"orient":"left","title":null,"values":[0,2.5,5,7.5,10,12.5,15,17.5,20],"labelExpr":"datum.value % 5 == 0 ? datum.label : ''","labelOverlap":false}},"fill":{"field":"h","type":"nominal","scale":{"domain":[0,1],"range":["#ffffff","#000000"]},"legend":null},"strokeDash":{"field":"g","type":"nominal","scale":{"range":[[1,0]]},"legend":{"title":null}}}},
     {"mark":{"type":"bar","opacity":0},"encoding":{"y":{"field":"v","type":"quantitative","axis":{"orient":"right","labels":false,"title":null,"values":[0,2.5,5,7.5,10,12.5,15,17.5,20]}}}}],
    "resolve":{"axis":{"y":"independent"}}},
   {"transform":[{"filter":"datum.g=='Spermicidal (9)'"}],"width":297,"height":43.4,
    "encoding":{"x":{"field":"a","type":"nominal","sort":null,"scale":{"domain":["I","V","L","F","C","M","A","W","G","P","T","S","Y","Q","N","E","D","H","K","R"],"paddingInner":0.22,"paddingOuter":0.65},"axis":null}},
    "layer":[{"mark":{"type":"bar","stroke":"#333","strokeWidth":1},"encoding":{"y":{"field":"v","type":"quantitative","scale":{"domain":[0,20]},"axis":{"orient":"right","title":null,"values":[0,2.5,5,7.5,10,12.5,15,17.5,20],"labelExpr":"datum.value % 5 == 0 ? datum.label : ''","labelOverlap":false}},"fill":{"field":"h","type":"nominal","scale":{"domain":[0,1],"range":["#ffffff","#000000"]},"legend":null},"strokeDash":{"field":"g","type":"nominal","scale":{"range":[[1,0]]},"legend":{"title":null}}}},
     {"mark":{"type":"bar","opacity":0},"encoding":{"y":{"field":"v","type":"quantitative","axis":{"orient":"left","labels":false,"title":null,"values":[0,2.5,5,7.5,10,12.5,15,17.5,20]}}}}],
    "resolve":{"axis":{"y":"independent"}}},
   {"transform":[{"filter":"datum.g=='Insecticidal (21)'"}],"width":297,"height":43.4,
    "encoding":{"x":{"field":"a","type":"nominal","sort":null,"scale":{"domain":["I","V","L","F","C","M","A","W","G","P","T","S","Y","Q","N","E","D","H","K","R"],"paddingInner":0.22,"paddingOuter":0.65},"axis":null}},
    "layer":[{"mark":{"type":"bar","stroke":"#333","strokeWidth":1},"encoding":{"y":{"field":"v","type":"quantitative","scale":{"domain":[0,20]},"axis":{"orient":"left","values":[0,2.5,5,7.5,10,12.5,15,17.5,20],"labelExpr":"datum.value % 5 == 0 ? datum.label : ''","labelOverlap":false,"title":"Amino acid %","titleFontSize":17,"titleX":-32,"titleY":44,"titleAngle":270,"titleAlign":"center","titleBaseline":"bottom"}},"fill":{"field":"h","type":"nominal","scale":{"domain":[0,1],"range":["#ffffff","#000000"]},"legend":null},"strokeDash":{"field":"g","type":"nominal","scale":{"range":[[1,0]]},"legend":{"title":null}}}},
     {"mark":{"type":"bar","opacity":0},"encoding":{"y":{"field":"v","type":"quantitative","axis":{"orient":"right","labels":false,"title":null,"values":[0,2.5,5,7.5,10,12.5,15,17.5,20]}}}}],
    "resolve":{"axis":{"y":"independent"}}},
   {"transform":[{"filter":"datum.g=='Antiparasital (42)'"}],"width":297,"height":43.4,
    "encoding":{"x":{"field":"a","type":"nominal","sort":null,"scale":{"domain":["I","V","L","F","C","M","A","W","G","P","T","S","Y","Q","N","E","D","H","K","R"],"paddingInner":0.22,"paddingOuter":0.65},"axis":null}},
    "layer":[{"mark":{"type":"bar","stroke":"#333","strokeWidth":1},"encoding":{"y":{"field":"v","type":"quantitative","scale":{"domain":[0,20]},"axis":{"orient":"right","title":null,"values":[0,2.5,5,7.5,10,12.5,15,17.5,20],"labelExpr":"datum.value % 5 == 0 ? datum.label : ''","labelOverlap":false}},"fill":{"field":"h","type":"nominal","scale":{"domain":[0,1],"range":["#ffffff","#000000"]},"legend":null},"strokeDash":{"field":"g","type":"nominal","scale":{"range":[[1,0]]},"legend":{"title":null}}}},
     {"mark":{"type":"bar","opacity":0},"encoding":{"y":{"field":"v","type":"quantitative","axis":{"orient":"left","labels":false,"title":null,"values":[0,2.5,5,7.5,10,12.5,15,17.5,20]}}}}],
    "resolve":{"axis":{"y":"independent"}}},
   {"transform":[{"filter":"datum.g=='Anticancer (128)'"}],"width":297,"height":43.4,
    "encoding":{"x":{"field":"a","type":"nominal","sort":null,"scale":{"domain":["I","V","L","F","C","M","A","W","G","P","T","S","Y","Q","N","E","D","H","K","R"],"paddingInner":0.22,"paddingOuter":0.65},"axis":null}},
    "layer":[{"mark":{"type":"bar","stroke":"#333","strokeWidth":1},"encoding":{"y":{"field":"v","type":"quantitative","scale":{"domain":[0,20]},"axis":{"orient":"left","title":null,"values":[0,2.5,5,7.5,10,12.5,15,17.5,20],"labelExpr":"datum.value % 5 == 0 ? datum.label : ''","labelOverlap":false}},"fill":{"field":"h","type":"nominal","scale":{"domain":[0,1],"range":["#ffffff","#000000"]},"legend":null},"strokeDash":{"field":"g","type":"nominal","scale":{"range":[[1,0]]},"legend":{"title":null}}}},
     {"mark":{"type":"bar","opacity":0},"encoding":{"y":{"field":"v","type":"quantitative","axis":{"orient":"right","labels":false,"title":null,"values":[0,2.5,5,7.5,10,12.5,15,17.5,20]}}}}],
    "resolve":{"axis":{"y":"independent"}}},
   {"transform":[{"filter":"datum.g=='Antiviral (122)'"}],"width":297,"height":43.4,
    "encoding":{"x":{"field":"a","type":"nominal","sort":null,"scale":{"domain":["I","V","L","F","C","M","A","W","G","P","T","S","Y","Q","N","E","D","H","K","R"],"paddingInner":0.22,"paddingOuter":0.65},"axis":null}},
    "layer":[{"mark":{"type":"bar","stroke":"#333","strokeWidth":1},"encoding":{"y":{"field":"v","type":"quantitative","scale":{"domain":[0,20]},"axis":{"orient":"right","title":null,"values":[0,2.5,5,7.5,10,12.5,15,17.5,20],"labelExpr":"datum.value % 5 == 0 ? datum.label : ''","labelOverlap":false}},"fill":{"field":"h","type":"nominal","scale":{"domain":[0,1],"range":["#ffffff","#000000"]},"legend":null},"strokeDash":{"field":"g","type":"nominal","scale":{"range":[[1,0]]},"legend":{"title":null}}}},
     {"mark":{"type":"bar","opacity":0},"encoding":{"y":{"field":"v","type":"quantitative","axis":{"orient":"left","labels":false,"title":null,"values":[0,2.5,5,7.5,10,12.5,15,17.5,20]}}}}],
    "resolve":{"axis":{"y":"independent"}}},
   {"transform":[{"filter":"datum.g=='Antifungal (694)'"}],"width":297,"height":43.4,
    "encoding":{"x":{"field":"a","type":"nominal","sort":null,"scale":{"domain":["I","V","L","F","C","M","A","W","G","P","T","S","Y","Q","N","E","D","H","K","R"],"paddingInner":0.22,"paddingOuter":0.65},"axis":null}},
    "layer":[{"mark":{"type":"bar","stroke":"#333","strokeWidth":1},"encoding":{"y":{"field":"v","type":"quantitative","scale":{"domain":[0,20]},"axis":{"orient":"left","title":null,"values":[0,2.5,5,7.5,10,12.5,15,17.5,20],"labelExpr":"datum.value % 5 == 0 ? datum.label : ''","labelOverlap":false}},"fill":{"field":"h","type":"nominal","scale":{"domain":[0,1],"range":["#ffffff","#000000"]},"legend":null},"strokeDash":{"field":"g","type":"nominal","scale":{"range":[[1,0]]},"legend":{"title":null}}}},
     {"mark":{"type":"bar","opacity":0},"encoding":{"y":{"field":"v","type":"quantitative","axis":{"orient":"right","labels":false,"title":null,"values":[0,2.5,5,7.5,10,12.5,15,17.5,20]}}}}],
    "resolve":{"axis":{"y":"independent"}}},
   {"transform":[{"filter":"datum.g=='Antibacterial (1585)'"}],"width":297,"height":43.4,
    "encoding":{"x":{"field":"a","type":"nominal","sort":null,"scale":{"domain":["I","V","L","F","C","M","A","W","G","P","T","S","Y","Q","N","E","D","H","K","R"],"paddingInner":0.22,"paddingOuter":0.65},"axis":null}},
    "layer":[{"mark":{"type":"bar","stroke":"#333","strokeWidth":1},"encoding":{"y":{"field":"v","type":"quantitative","scale":{"domain":[0,20]},"axis":{"orient":"right","title":null,"values":[0,2.5,5,7.5,10,12.5,15,17.5,20],"labelExpr":"datum.value % 5 == 0 ? datum.label : ''","labelOverlap":false}},"fill":{"field":"h","type":"nominal","scale":{"domain":[0,1],"range":["#ffffff","#000000"]},"legend":null},"strokeDash":{"field":"g","type":"nominal","scale":{"range":[[1,0]]},"legend":{"title":null}}}},
     {"mark":{"type":"bar","opacity":0},"encoding":{"y":{"field":"v","type":"quantitative","axis":{"orient":"left","labels":false,"title":null,"values":[0,2.5,5,7.5,10,12.5,15,17.5,20]}}}}],
    "resolve":{"axis":{"y":"independent"}}},
   {"transform":[{"filter":"datum.g=='All peptides'"}],"width":297,"height":43.4,
    "encoding":{"x":{"field":"a","type":"nominal","sort":null,"scale":{"domain":["I","V","L","F","C","M","A","W","G","P","T","S","Y","Q","N","E","D","H","K","R"],"paddingInner":0.22,"paddingOuter":0.65},"axis":{"orient":"bottom","ticks":false,"labelPadding":1,"labelFontSize":14,"labelAngle":0,"title":"Amino acid","titleFontSize":14,"titlePadding":12}}},
    "layer":[{"mark":{"type":"bar","stroke":"#333","strokeWidth":1},"encoding":{"y":{"field":"v","type":"quantitative","scale":{"domain":[0,20]},"axis":{"orient":"left","title":null,"values":[0,2.5,5,7.5,10,12.5,15,17.5,20],"labelExpr":"datum.value % 5 == 0 ? datum.label : ''","labelOverlap":false}},"fill":{"field":"h","type":"nominal","scale":{"domain":[0,1],"range":["#ffffff","#000000"]},"legend":null},"strokeDash":{"field":"g","type":"nominal","scale":{"range":[[1,0]]},"legend":{"title":null}}}},
     {"mark":{"type":"bar","opacity":0},"encoding":{"y":{"field":"v","type":"quantitative","axis":{"orient":"right","labels":false,"title":null,"values":[0,2.5,5,7.5,10,12.5,15,17.5,20]}}}}],
    "resolve":{"axis":{"y":"independent"}}}
  ]}
]}
]
}
